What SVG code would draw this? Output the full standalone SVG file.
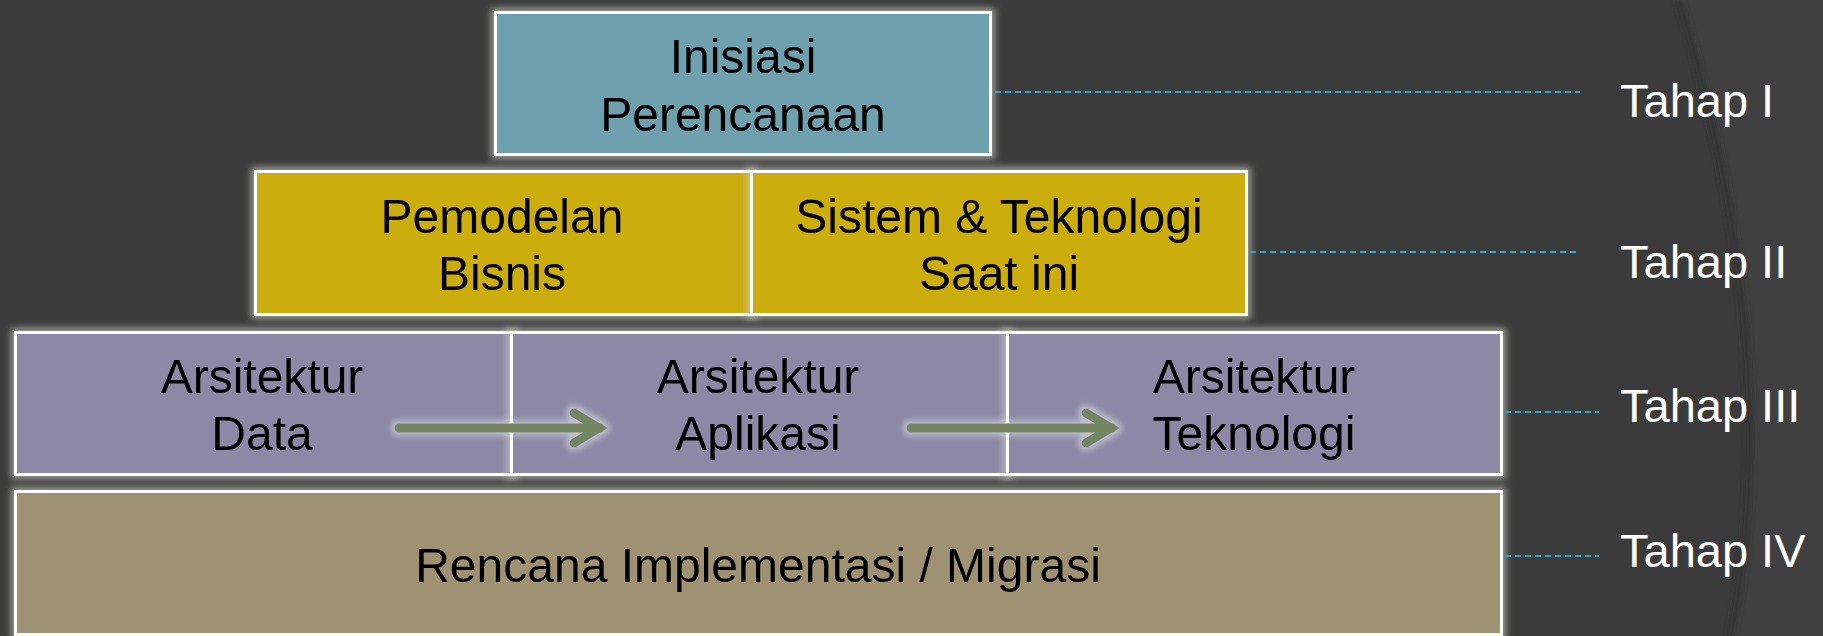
<svg xmlns="http://www.w3.org/2000/svg" width="1823" height="636" viewBox="0 0 1823 636">
  <defs>
    <filter id="glow" x="-5%" y="-20%" width="110%" height="140%">
      <feMorphology in="SourceAlpha" operator="dilate" radius="3" result="d"/>
      <feGaussianBlur in="d" stdDeviation="3.5" result="b"/>
      <feFlood flood-color="#d0d0c8" flood-opacity="0.65"/>
      <feComposite in2="b" operator="in" result="g"/>
      <feMerge><feMergeNode in="g"/><feMergeNode in="SourceGraphic"/></feMerge>
    </filter>
    <filter id="aglow" x="-10%" y="-60%" width="120%" height="220%">
      <feMorphology in="SourceAlpha" operator="dilate" radius="3" result="d"/>
      <feGaussianBlur in="d" stdDeviation="3" result="b"/>
      <feFlood flood-color="#ffffff" flood-opacity="0.45"/>
      <feComposite in2="b" operator="in" result="g"/>
      <feMerge><feMergeNode in="g"/><feMergeNode in="SourceGraphic"/></feMerge>
    </filter>
    <filter id="soft" x="-50%" y="-5%" width="200%" height="110%">
      <feGaussianBlur stdDeviation="3"/>
    </filter>
    <style>
      .box { stroke: #ffffff; stroke-width: 3; }
      .lbl { font-family: "Liberation Sans", Arial, sans-serif; font-size: 48px; fill: #000000; text-anchor: middle; }
      .tahap { font-family: "Liberation Sans", Arial, sans-serif; font-size: 47px; fill: #ffffff; }
      .dash { stroke: #2fa3cf; stroke-width: 1.8; stroke-dasharray: 6 4; fill: none; }
      .arrow { stroke: #738562; stroke-width: 9; fill: none; }
    </style>
  </defs>

  <!-- background -->
  <rect x="0" y="0" width="1823" height="636" fill="#3b3b3b"/>
  <path d="M1676,0 C1725,160 1775,400 1728,636 L1823,636 L1823,0 Z" fill="#404040"/>
  <path d="M1679,0 C1728,160 1778,400 1731,636" stroke="#2c2c2c" stroke-width="5" fill="none" filter="url(#soft)" opacity="0.8"/>

  <!-- nodes -->
  <g id="inisiasi" filter="url(#glow)">
    <rect class="box" x="495.5" y="12.5" width="495" height="142" fill="#6ea0ae"/>
    <text class="lbl" x="743" y="73">Inisiasi</text>
    <text class="lbl" x="743" y="131">Perencanaan</text>
  </g>
  <g id="pemodelan" filter="url(#glow)">
    <rect class="box" x="255.5" y="171.5" width="496" height="143" fill="#cbad0b"/>
    <text class="lbl" x="502" y="233">Pemodelan</text>
    <text class="lbl" x="502" y="290">Bisnis</text>
  </g>
  <g id="sistem" filter="url(#glow)">
    <rect class="box" x="751.5" y="171.5" width="495" height="143" fill="#cbad0b"/>
    <text class="lbl" x="999" y="233">Sistem &amp; Teknologi</text>
    <text class="lbl" x="999" y="290">Saat ini</text>
  </g>
  <g id="arsitektur-data" filter="url(#glow)">
    <rect class="box" x="15.5" y="332.5" width="497" height="142" fill="#8c88a5"/>
    <text class="lbl" x="262" y="393">Arsitektur</text>
    <text class="lbl" x="262" y="450">Data</text>
  </g>
  <g id="arsitektur-aplikasi" filter="url(#glow)">
    <rect class="box" x="511.5" y="332.5" width="496" height="142" fill="#8c88a5"/>
    <text class="lbl" x="758" y="393">Arsitektur</text>
    <text class="lbl" x="758" y="450">Aplikasi</text>
  </g>
  <g id="arsitektur-teknologi" filter="url(#glow)">
    <rect class="box" x="1007.5" y="332.5" width="494" height="142" fill="#8c88a5"/>
    <text class="lbl" x="1254" y="393">Arsitektur</text>
    <text class="lbl" x="1254" y="450">Teknologi</text>
  </g>
  <g id="rencana" filter="url(#glow)">
    <rect class="box" x="15.5" y="491.5" width="1486" height="143" fill="#9f9272"/>
    <text class="lbl" x="758" y="582">Rencana Implementasi / Migrasi</text>
  </g>

  <!-- connectors -->
  <g id="connectors">
    <g filter="url(#aglow)">
      <path class="arrow" d="M399,428 H600 M574,413 L599,428 L574,443" stroke-linecap="round" stroke-linejoin="miter"/>
    </g>
    <g filter="url(#aglow)">
      <path class="arrow" d="M911,428 H1112 M1086,413 L1111,428 L1086,443" stroke-linecap="round" stroke-linejoin="miter"/>
    </g>
    <line class="dash" x1="995" y1="92" x2="1580" y2="92"/>
    <line class="dash" x1="1250" y1="252" x2="1580" y2="252"/>
    <line class="dash" x1="1505" y1="412" x2="1599" y2="412"/>
    <line class="dash" x1="1505" y1="556" x2="1599" y2="556"/>
  </g>

  <!-- stage labels -->
  <g id="labels">
    <text class="tahap" x="1620" y="117">Tahap I</text>
    <text class="tahap" x="1620" y="278">Tahap II</text>
    <text class="tahap" x="1620" y="422">Tahap III</text>
    <text class="tahap" x="1620" y="567">Tahap IV</text>
  </g>
</svg>
